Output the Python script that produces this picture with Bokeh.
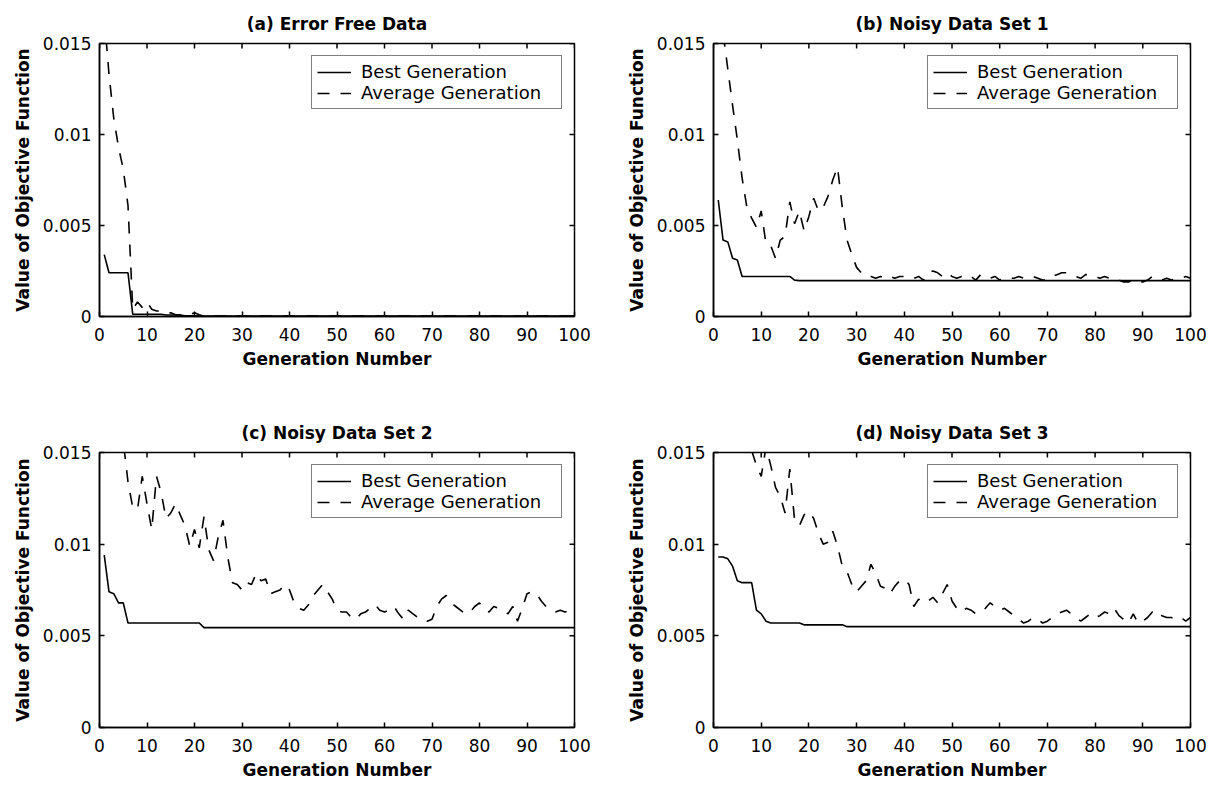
import math
from bokeh.plotting import figure
from bokeh.layouts import column, row
from bokeh.models import Range1d, FixedTicker, Legend, LegendItem, ColumnDataSource
from bokeh.embed import file_html
from bokeh.resources import INLINE

# ---------------- data ----------------
generations = list(range(1, 101))

x_ticks = [0, 10, 20, 30, 40, 50, 60, 70, 80, 90, 100]
y_ticks = [0, 0.005, 0.01, 0.015]
y_tick_labels = ["0", "0.005", "0.01", "0.015"]

titles = ["(a) Error Free Data", "(b) Noisy Data Set 1",
          "(c) Noisy Data Set 2", "(d) Noisy Data Set 3"]
x_label = "Generation Number"
y_label = "Value of Objective Function"
series_names = ["Best Generation", "Average Generation"]

best_a = ([0.0034, 0.0024, 0.0024, 0.0024, 0.0024, 0.0024]
          + [0.00012] * 7 + [0.00008] * 4 + [0.00004] * 3 + [0.00002] * 80)
avg_a = ([0.0165, 0.0133, 0.0109, 0.0093, 0.0081, 0.0061, 0.0004, 0.0008, 0.0005, 0.0008,
          0.0004, 0.0003, 0.0003, 0.0002, 0.0002, 0.0001, 0.0001, 0.0001, 0.0001, 0.0002,
          0.0001] + [0.00002] * 79)

best_b = ([0.0064, 0.0042, 0.0041, 0.0032, 0.0031] + [0.0022] * 11 + [0.0020]
          + [0.00197] * 83)
avg_b = [0.0180, 0.0156, 0.0136, 0.0116, 0.0097, 0.0076, 0.0060, 0.0054, 0.0049, 0.0058,
         0.0040, 0.0039, 0.0032, 0.0042, 0.0044, 0.0063, 0.0051, 0.0058, 0.0047, 0.0055,
         0.0065, 0.0058, 0.0060, 0.0066, 0.0075, 0.0082, 0.0060, 0.0042, 0.0034, 0.0027,
         0.0024, 0.0022, 0.0022, 0.0021, 0.0022, 0.0021, 0.0022, 0.0021, 0.0022, 0.0022,
         0.0022, 0.0021, 0.0022, 0.0020, 0.0024, 0.0025, 0.0024, 0.0022, 0.0024, 0.0022,
         0.0021, 0.0022, 0.0021, 0.0022, 0.0020, 0.0023, 0.0022, 0.0021, 0.0022, 0.0020,
         0.0021, 0.0021, 0.0021, 0.0022, 0.0021, 0.0022, 0.0022, 0.0021, 0.0020, 0.0020,
         0.0022, 0.0023, 0.0024, 0.0024, 0.0023, 0.0022, 0.0021, 0.0023, 0.0023, 0.0022,
         0.0021, 0.0022, 0.0021, 0.0021, 0.0020, 0.0019, 0.0019, 0.0020, 0.0019, 0.0019,
         0.0020, 0.0022, 0.0021, 0.0020, 0.0021, 0.0020, 0.0021, 0.0021, 0.0022, 0.0021]

best_c = [0.0094, 0.0074, 0.0073, 0.0068, 0.0068] + [0.0057] * 16 + [0.00545] * 79
avg_c = [0.0240, 0.0210, 0.0190, 0.0172, 0.0156, 0.0134, 0.0120, 0.0119, 0.0137, 0.0122,
         0.0108, 0.0137, 0.0128, 0.0114, 0.0117, 0.0122, 0.0116, 0.0110, 0.0099, 0.0108,
         0.0098, 0.0115, 0.0097, 0.0091, 0.0104, 0.0113, 0.0093, 0.0079, 0.0078, 0.0075,
         0.0079, 0.0078, 0.0084, 0.0080, 0.0081, 0.0073, 0.0074, 0.0075, 0.0078, 0.0075,
         0.0068, 0.0065, 0.0064, 0.0067, 0.0072, 0.0075, 0.0078, 0.0074, 0.0070, 0.0064,
         0.0063, 0.0063, 0.0060, 0.0059, 0.0062, 0.0063, 0.0065, 0.0067, 0.0064, 0.0063,
         0.0064, 0.0066, 0.0062, 0.0059, 0.0064, 0.0062, 0.0060, 0.0060, 0.0058, 0.0059,
         0.0066, 0.0070, 0.0072, 0.0068, 0.0066, 0.0064, 0.0062, 0.0063, 0.0066, 0.0068,
         0.0064, 0.0063, 0.0066, 0.0065, 0.0064, 0.0062, 0.0066, 0.0058, 0.0065, 0.0073,
         0.0074, 0.0073, 0.0069, 0.0066, 0.0064, 0.0063, 0.0064, 0.0063, 0.0064, 0.0065]

best_d = ([0.0093, 0.0093, 0.0092, 0.0088, 0.0080, 0.0079, 0.0079, 0.0079, 0.0064, 0.0062,
           0.0058] + [0.0057] * 7 + [0.0056] * 9 + [0.0055] * 73)
avg_d = [0.0300, 0.0270, 0.0240, 0.0210, 0.0190, 0.0175, 0.0163, 0.0151, 0.0143, 0.0137,
         0.0153, 0.0143, 0.0131, 0.0126, 0.0117, 0.0141, 0.0113, 0.0110, 0.0116, 0.0118,
         0.0114, 0.0106, 0.0100, 0.0101, 0.0107, 0.0099, 0.0088, 0.0085, 0.0078, 0.0074,
         0.0077, 0.0080, 0.0089, 0.0084, 0.0077, 0.0076, 0.0073, 0.0077, 0.0080, 0.0081,
         0.0078, 0.0066, 0.0070, 0.0068, 0.0069, 0.0071, 0.0068, 0.0073, 0.0078, 0.0069,
         0.0065, 0.0063, 0.0065, 0.0064, 0.0062, 0.0063, 0.0065, 0.0068, 0.0066, 0.0064,
         0.0065, 0.0063, 0.0061, 0.0059, 0.0057, 0.0058, 0.0060, 0.0059, 0.0057, 0.0058,
         0.0060, 0.0062, 0.0063, 0.0064, 0.0062, 0.0060, 0.0058, 0.0060, 0.0062, 0.0060,
         0.0061, 0.0063, 0.0062, 0.0065, 0.0061, 0.0059, 0.0057, 0.0062, 0.0057, 0.0058,
         0.0060, 0.0063, 0.0064, 0.0061, 0.0060, 0.0060, 0.0059, 0.0060, 0.0058, 0.0060]

# ---------------- styling ----------------
FONT = "DejaVu Sans"
LW = 1.6
X_MIN, X_MAX = x_ticks[0], x_ticks[-1]
Y_MIN, Y_MAX = y_ticks[0], y_ticks[-1]


def style_axis(ax, ticks, label_standoff, axis_label_standoff):
    ax.ticker = FixedTicker(ticks=ticks)
    ax.major_tick_in = 5
    ax.major_tick_out = 0
    ax.major_tick_line_color = "black"
    ax.major_tick_line_width = 1.5
    ax.minor_tick_line_color = None
    ax.axis_line_color = "black"
    ax.axis_line_width = 1.5
    ax.major_label_text_font = FONT
    ax.major_label_text_font_size = "17px"
    ax.major_label_text_color = "black"
    ax.major_label_standoff = label_standoff
    ax.axis_label_text_font = FONT
    ax.axis_label_text_font_size = "17px"
    ax.axis_label_text_font_style = "bold"
    ax.axis_label_text_color = "black"
    ax.axis_label_standoff = axis_label_standoff


def make_panel(title, best, avg, width, height, left, right, top, bottom):
    p = figure(width=width, height=height, output_backend="svg", toolbar_location=None,
               x_range=Range1d(X_MIN, X_MAX), y_range=Range1d(Y_MIN, Y_MAX),
               min_border_left=left, min_border_right=right,
               min_border_top=top, min_border_bottom=bottom, title=title)
    p.grid.visible = False
    p.background_fill_color = "white"
    p.border_fill_color = "white"
    p.outline_line_color = "black"
    p.outline_line_width = 1.5

    p.title.align = "center"
    p.title.text_font = FONT
    p.title.text_font_size = "17px"
    p.title.text_font_style = "bold"
    p.title.text_color = "black"
    p.title.standoff = 19

    style_axis(p.xaxis[0], x_ticks, label_standoff=11, axis_label_standoff=5)
    p.xaxis[0].axis_label = x_label
    style_axis(p.yaxis[0], y_ticks, label_standoff=8, axis_label_standoff=7)
    p.yaxis[0].axis_label = y_label
    p.yaxis[0].major_label_overrides = dict(zip(y_ticks, y_tick_labels))

    # inward tick marks mirrored on the top and right edges of the box
    p.ray(x=x_ticks, y=[Y_MAX] * len(x_ticks), length=5, length_units="screen",
          angle=-math.pi / 2, line_color="black", line_width=1.5)
    p.ray(x=[X_MAX] * len(y_ticks), y=y_ticks, length=5, length_units="screen",
          angle=math.pi, line_color="black", line_width=1.5)

    src = ColumnDataSource(dict(gen=generations, best=best, avg=avg))
    r1 = p.line(x="gen", y="best", source=src, line_color="black", line_width=LW)
    r2 = p.line(x="gen", y="avg", source=src, line_color="black", line_width=LW,
                line_dash="12 11")

    legend = Legend(items=[LegendItem(label=series_names[0], renderers=[r1]),
                           LegendItem(label=series_names[1], renderers=[r2])],
                    location="top_right")
    legend.label_text_font = FONT
    legend.label_text_font_size = "18px"
    legend.label_text_color = "black"
    legend.glyph_width = 34
    legend.glyph_height = 20
    legend.label_height = 20
    legend.label_width = 195
    legend.label_standoff = 10
    legend.padding = 5
    legend.spacing = 0
    legend.margin = 12
    legend.border_line_color = "black"
    legend.border_line_width = 1.5
    legend.background_fill_color = "white"
    legend.background_fill_alpha = 1.0
    p.add_layout(legend)
    return p


pa = make_panel(titles[0], best_a, avg_a, 608, 407, 99, 34, 43, 91)
pb = make_panel(titles[1], best_b, avg_b, 606, 407, 105, 24, 43, 91)
pc = make_panel(titles[2], best_c, avg_c, 608, 375, 99, 34, 45, 55)
pd = make_panel(titles[3], best_d, avg_d, 606, 375, 105, 24, 45, 55)

layout = column(row(pa, pb), row(pc, pd))

open("out.html", "w").write(file_html(layout, INLINE))
